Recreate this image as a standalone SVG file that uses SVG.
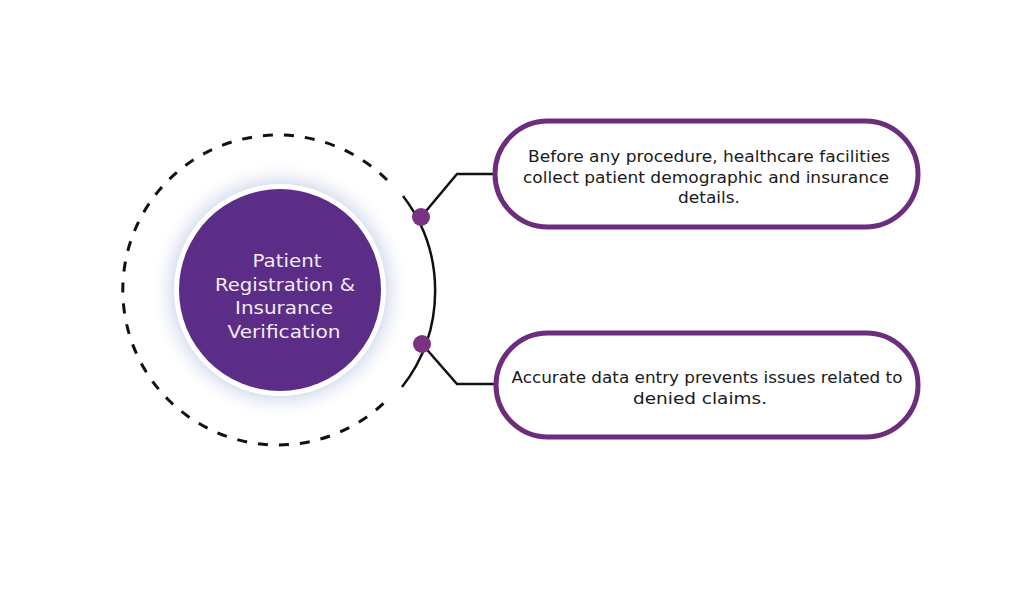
<svg xmlns="http://www.w3.org/2000/svg" width="1024" height="597" viewBox="0 0 1024 597">
<defs>
<style>
.box{fill:#fff;stroke:#6c2d7c;stroke-width:5}
.btxt{font-family:"DejaVu Sans","Liberation Sans",sans-serif;font-size:15.5px;fill:#1a1a1a;text-anchor:middle}
.ctxt{font-family:"DejaVu Sans","Liberation Sans",sans-serif;font-size:18px;fill:#f3ecf7;text-anchor:middle}
.conn{fill:none;stroke:#111;stroke-width:2.5}
.dot{fill:#7a3283}
</style>
<radialGradient id="glow" cx="0.5" cy="0.5" r="0.5">
<stop offset="0.78" stop-color="#cdd6ea" stop-opacity="1"/>
<stop offset="1" stop-color="#ffffff" stop-opacity="0"/>
</radialGradient>
</defs>
<rect width="1024" height="597" fill="#fff"/>
<g id="center">
<circle cx="280" cy="290" r="130" fill="url(#glow)"/>
<circle cx="280" cy="290" r="106" fill="#fff"/>
<circle cx="280" cy="290" r="101" fill="#5b2d86"/>
<text class="ctxt" x="287" y="267" textLength="69" lengthAdjust="spacingAndGlyphs">Patient</text>
<text class="ctxt" x="285" y="291" textLength="140" lengthAdjust="spacingAndGlyphs">Registration &amp;</text>
<text class="ctxt" x="284" y="314" textLength="98" lengthAdjust="spacingAndGlyphs">Insurance</text>
<text class="ctxt" x="284" y="338" textLength="113" lengthAdjust="spacingAndGlyphs">Verification</text>
</g>
<g id="ring">
<path d="M387,180 A155,155 0 1 0 387,400" fill="none" stroke="#111" stroke-width="3" stroke-dasharray="10,11"/>
<path d="M403,196 A156,156 0 0 1 402,387" fill="none" stroke="#111" stroke-width="2.5"/>
</g>
<g id="connectors">
<path class="conn" d="M421,217 L457,174 L495,174"/>
<path class="conn" d="M422,344 L457,384 L495,384"/>
<circle class="dot" cx="421" cy="217" r="9"/>
<circle class="dot" cx="422" cy="344" r="9"/>
</g>
<g id="box1">
<rect class="box" x="495" y="121" width="423" height="106" rx="53"/>
<text class="btxt" x="709" y="162" textLength="362" lengthAdjust="spacingAndGlyphs">Before any procedure, healthcare facilities</text>
<text class="btxt" x="706" y="183" textLength="366" lengthAdjust="spacingAndGlyphs">collect patient demographic and insurance</text>
<text class="btxt" x="709" y="203" textLength="62" lengthAdjust="spacingAndGlyphs">details.</text>
</g>
<g id="box2">
<rect class="box" x="496" y="333" width="422" height="104" rx="52"/>
<text class="btxt" x="707" y="383" textLength="391" lengthAdjust="spacingAndGlyphs">Accurate data entry prevents issues related to</text>
<text class="btxt" x="700" y="404" textLength="134" lengthAdjust="spacingAndGlyphs">denied claims.</text>
</g>
</svg>
